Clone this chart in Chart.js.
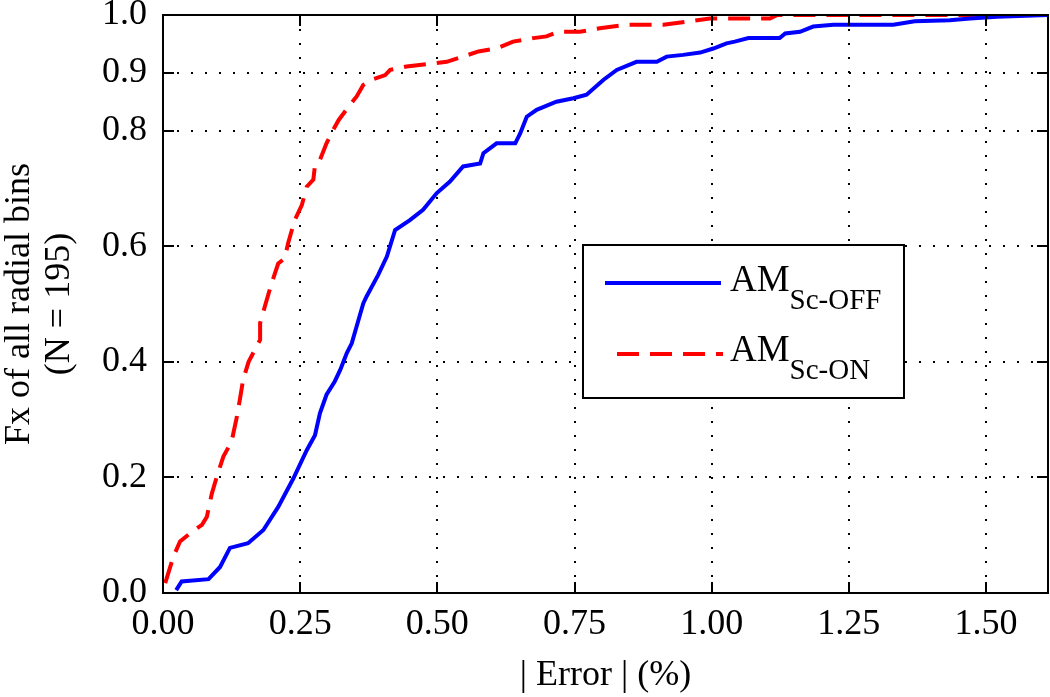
<!DOCTYPE html>
<html>
<head>
<meta charset="utf-8">
<script src="https://cdn.jsdelivr.net/npm/chart.js@4/dist/chart.umd.min.js"></script>
<style>
html,body{margin:0;padding:0;background:#fff;}
#wrap{width:1050px;height:697px;}
</style>
</head>
<body>
<div id="wrap"><canvas id="c" width="1050" height="697"></canvas></div>
<script>
// ---- data ----
const xTickValues = [0, 0.25, 0.5, 0.75, 1.0, 1.25, 1.5];
const yTickValues = [0, 0.2, 0.4, 0.6, 0.8, 0.9, 1.0];
const xAxisTitle = '| Error | (%)';
const yAxisTitle = ['Fx of all radial bins', '(N = 195)'];
const seriesMain = ['AM', 'AM'];
const seriesSub = ['Sc-OFF', 'Sc-ON'];

const offX = [0.024,0.034,0.083,0.104,0.122,0.155,0.183,0.21,0.2375,0.262,0.277,0.286,0.298,0.313,0.323,0.335,0.344,0.365,0.371,0.392,0.408,0.423,0.45,0.474,0.499,0.523,0.547,0.578,0.584,0.608,0.642,0.651,0.663,0.681,0.717,0.748,0.772,0.803,0.827,0.863,0.9,0.918,0.948,0.979,1.003,1.027,1.042,1.067,1.124,1.134,1.161,1.185,1.222,1.331,1.37,1.434,1.471,1.52,1.613];
const offY = [0.005,0.02,0.024,0.045,0.078,0.086,0.109,0.149,0.198,0.247,0.273,0.311,0.343,0.366,0.386,0.415,0.432,0.501,0.513,0.55,0.582,0.628,0.645,0.663,0.692,0.712,0.738,0.743,0.761,0.778,0.778,0.795,0.824,0.836,0.85,0.856,0.862,0.888,0.905,0.919,0.919,0.928,0.931,0.935,0.942,0.951,0.954,0.96,0.96,0.968,0.971,0.98,0.983,0.983,0.989,0.991,0.994,0.997,1.0];

const onX = [0.004,0.019,0.031,0.049,0.071,0.08,0.089,0.098,0.11,0.125,0.134,0.14,0.146,0.156,0.177,0.177,0.189,0.198,0.21,0.222,0.228,0.24,0.253,0.262,0.274,0.277,0.286,0.298,0.31,0.32,0.338,0.353,0.365,0.38,0.405,0.414,0.444,0.49,0.517,0.547,0.575,0.608,0.638,0.675,0.699,0.72,0.76,0.796,0.845,0.912,0.96,0.997,1.073,1.106,1.12,1.613];
const onY = [0.017,0.063,0.089,0.103,0.118,0.132,0.172,0.201,0.236,0.262,0.302,0.334,0.369,0.4,0.438,0.467,0.507,0.536,0.57,0.579,0.605,0.645,0.671,0.703,0.715,0.74,0.749,0.778,0.801,0.818,0.841,0.859,0.879,0.888,0.896,0.905,0.911,0.916,0.919,0.928,0.937,0.942,0.954,0.96,0.963,0.971,0.971,0.977,0.983,0.983,0.989,0.994,0.994,0.994,1.0,1.0];

const xMin = 0, xMax = 1.613, yMin = 0, yMax = 1.0;

// ---- build ----
const toPts = (xs, ys) => xs.map((x, i) => ({x: x, y: ys[i]}));
const FONT = '"Liberation Serif", "Times New Roman", serif';

const framePlugin = {
  id: 'frame',
  afterDatasetsDraw(chart) {
    const ctx = chart.ctx, a = chart.chartArea;
    const xs = chart.scales.x, ys = chart.scales.y;
    ctx.save();
    ctx.strokeStyle = '#000';
    ctx.lineWidth = 2;
    ctx.setLineDash([]);
    ctx.strokeRect(a.left, a.top, a.right - a.left, a.bottom - a.top);
    const tl = 11;
    ctx.beginPath();
    xs.ticks.forEach(t => {
      const px = Math.round(xs.getPixelForValue(t.value));
      ctx.moveTo(px, a.bottom); ctx.lineTo(px, a.bottom - tl);
      ctx.moveTo(px, a.top); ctx.lineTo(px, a.top + tl);
    });
    ys.ticks.forEach(t => {
      const py = Math.round(ys.getPixelForValue(t.value));
      ctx.moveTo(a.left, py); ctx.lineTo(a.left + tl, py);
      ctx.moveTo(a.right, py); ctx.lineTo(a.right - tl, py);
    });
    ctx.stroke();

    // legend
    const bx = 583, by = 245, bw = 321, bh = 153;
    ctx.fillStyle = '#fff';
    ctx.fillRect(bx, by, bw, bh);
    ctx.lineWidth = 2;
    ctx.strokeRect(bx, by, bw, bh);
    const rows = [
      {y: 283, x0: 605, x1: 721, tb: 291, sb: 309},
      {y: 354, x0: 617, x1: 723, tb: 361, sb: 379}
    ];
    chart.data.datasets.forEach((ds, i) => {
      const r = rows[i];
      ctx.save();
      ctx.strokeStyle = ds.borderColor;
      ctx.lineWidth = 4;
      ctx.setLineDash(ds.borderDash || []);
      ctx.beginPath();
      ctx.moveTo(r.x0, r.y); ctx.lineTo(r.x1, r.y);
      ctx.stroke();
      ctx.restore();
      ctx.fillStyle = '#000';
      ctx.textBaseline = 'alphabetic';
      ctx.textAlign = 'left';
      ctx.font = '37px ' + FONT;
      ctx.fillText(seriesMain[i], 730, r.tb);
      const w = ctx.measureText(seriesMain[i]).width;
      ctx.font = '29px ' + FONT;
      ctx.fillText(seriesSub[i], 730 + w, r.sb);
    });
    ctx.restore();
  }
};

new Chart(document.getElementById('c'), {
  type: 'scatter',
  data: {
    datasets: [
      {
        label: seriesMain[0] + seriesSub[0],
        data: toPts(offX, offY),
        showLine: true,
        borderColor: '#0000ff',
        borderWidth: 4,
        pointRadius: 0,
        tension: 0,
        fill: false
      },
      {
        label: seriesMain[1] + seriesSub[1],
        data: toPts(onX, onY),
        showLine: true,
        borderColor: '#ff0000',
        borderWidth: 4,
        borderDash: [22, 11],
        pointRadius: 0,
        tension: 0,
        fill: false
      }
    ]
  },
  options: {
    responsive: false,
    animation: false,
    layout: {padding: {top: 15, right: 2, left: 0, bottom: 0}},
    plugins: {legend: {display: false}, tooltip: {enabled: false}},
    scales: {
      x: {
        type: 'linear', min: xMin, max: xMax,
        afterBuildTicks: s => { s.ticks = xTickValues.map(v => ({value: v})); },
        afterFit: s => { s.height = 104; s.paddingLeft = 0; s.paddingRight = 0; },
        ticks: {
          callback: v => Number(v).toFixed(2),
          font: {family: FONT, size: 36},
          color: '#000',
          padding: 10,
          maxRotation: 0,
          autoSkip: false
        },
        grid: {color: '#000', lineWidth: 2, drawTicks: false},
        border: {display: false, dash: [2, 12]},
        title: {
          display: true, text: xAxisTitle, color: '#000',
          font: {family: FONT, size: 36}, padding: {top: 0, bottom: 0}
        }
      },
      y: {
        type: 'linear', min: yMin, max: yMax,
        afterBuildTicks: s => { s.ticks = yTickValues.map(v => ({value: v})); },
        afterFit: s => { s.width = 163; s.paddingTop = 0; s.paddingBottom = 0; },
        ticks: {
          callback: v => Number(v).toFixed(1),
          font: {family: FONT, size: 36},
          color: '#000',
          padding: 16,
          autoSkip: false
        },
        grid: {color: '#000', lineWidth: 2, drawTicks: false},
        border: {display: false, dash: [2, 12]},
        title: {
          display: true, text: yAxisTitle, color: '#000',
          font: {family: FONT, size: 36, lineHeight: 1.1}, padding: {top: 0, bottom: 0}
        }
      }
    }
  },
  plugins: [framePlugin]
});
</script>
</body>
</html>
